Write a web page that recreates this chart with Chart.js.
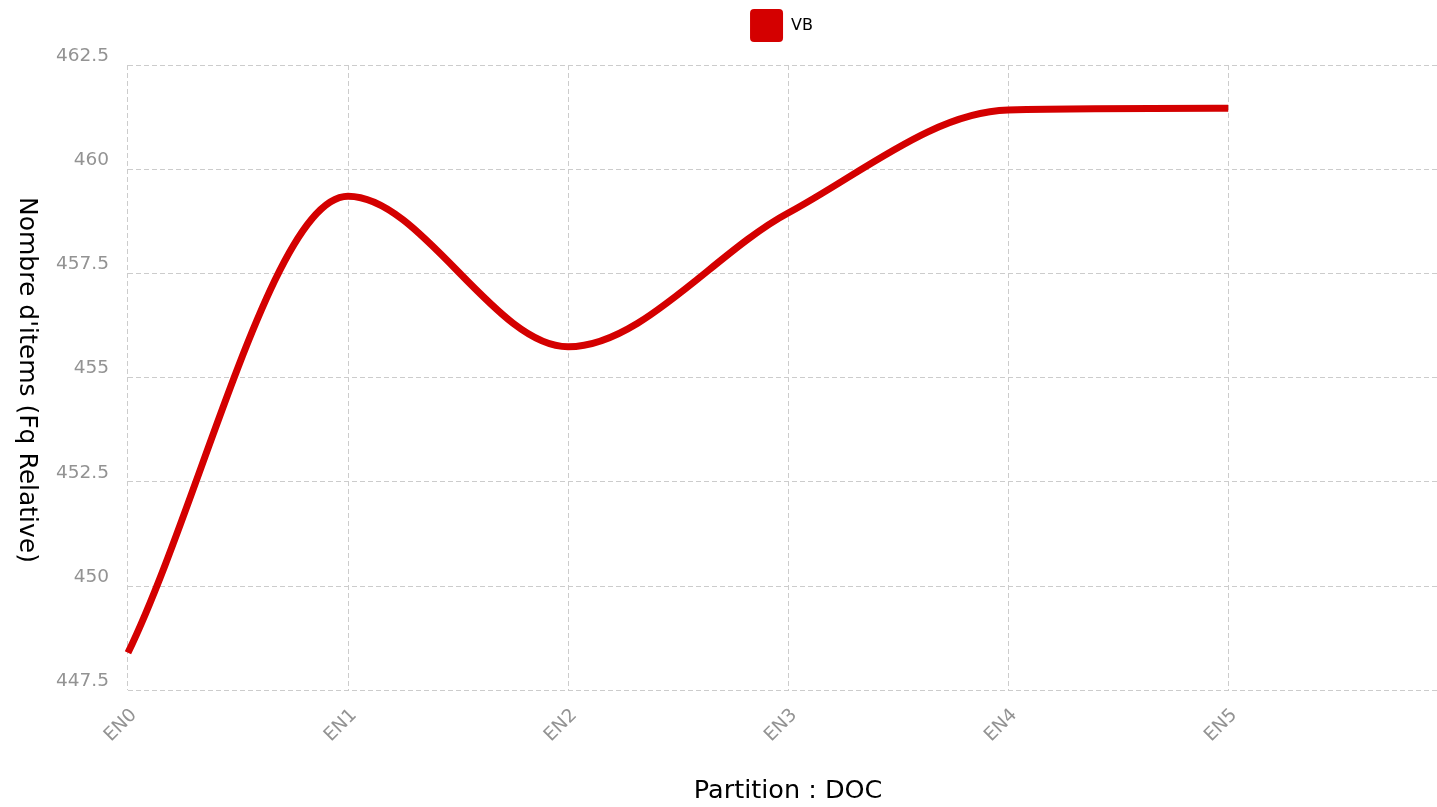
<!DOCTYPE html>
<html>
<head>
<meta charset="utf-8">
<script src="https://cdn.jsdelivr.net/npm/chart.js@4"></script>
<style>
	html, body { margin: 0; padding: 0; background: #fff; overflow: hidden; }
	#wrap { position: relative; width: 1478px; height: 807px; }
	#yTitle {
		position: absolute; left: 14px; top: 0; height: 760px;
		writing-mode: vertical-rl; text-align: center;
		font-family: "DejaVu Sans"; font-size: 25px; color: #000;
	}
</style>
</head>
<body>
<div id="wrap">
	<div id="yTitle">Nombre d'items (Fq Relative)</div>
	<canvas id="chart"></canvas>
</div>
<script>
const labels = ["EN0", "EN1", "EN2", "EN3", "EN4", "EN5", ""];
const vbValues = [448.4, 459.35, 455.74, 458.95, 461.42, 461.46];
const yTicks = { min: 447.5, max: 462.5, step: 2.5 };

const red = "rgb(212,0,0)";
const tickGrey = "#939393";
const gridStyle = {
	color: "#cccccc",
	drawTicks: false,
};

// more room under the legend, and nudge it to the right
const legendTweak = {
	id: "legendTweak",
	beforeInit(chart) {
		const fit = chart.legend.fit;
		chart.legend.fit = function () {
			fit.bind(chart.legend)();
			this.height += 13;
		};
	},
	afterLayout(chart) {
		chart.legend.left += 24;
		chart.legend.right += 24;
	},
};

new Chart("chart", {
	type: "line",
	data: {
		labels,
		datasets: [{
			label: "VB",
			data: vbValues,
			borderColor: red,
			backgroundColor: red,
			borderWidth: 7,
			pointRadius: 0,
			cubicInterpolationMode: "monotone",
			fill: false,
		}],
	},
	options: {
		responsive: true,
		maintainAspectRatio: false,
		animation: false,
		layout: { padding: { left: 37, right: 0, top: 0, bottom: 0 } },
		plugins: {
			legend: {
				labels: {
					boxWidth: 33,
					boxHeight: 33,
					useBorderRadius: true,
					borderRadius: 4,
					color: "#000",
					font: { family: "DejaVu Sans", size: 16 },
					padding: 9,
					generateLabels: (chart) =>
						Chart.defaults.plugins.legend.labels.generateLabels(chart)
							.map((item) => ({ ...item, lineWidth: 0 })),
				},
			},
			tooltip: { enabled: false },
		},
		scales: {
			x: {
				grid: gridStyle,
				border: { display: false, dash: [5, 3] },
				ticks: {
					color: tickGrey,
					font: { family: "DejaVu Sans", size: 18.5 },
					maxRotation: 45,
					minRotation: 45,
					padding: 14,
					labelOffset: 6,
				},
				title: {
					display: true,
					text: "Partition : DOC",
					color: "#000",
					font: { family: "DejaVu Sans", size: 25.5 },
					padding: { top: 16, bottom: 0 },
				},
			},
			y: {
				min: yTicks.min,
				max: yTicks.max,
				grid: gridStyle,
				border: { display: false, dash: [5, 3] },
				ticks: {
					stepSize: yTicks.step,
					color: tickGrey,
					font: { family: "DejaVu Sans", size: 18.5 },
					padding: 19,
					labelOffset: -9,
				},
			},
		},
	},
	plugins: [legendTweak],
});
</script>
</body>
</html>
